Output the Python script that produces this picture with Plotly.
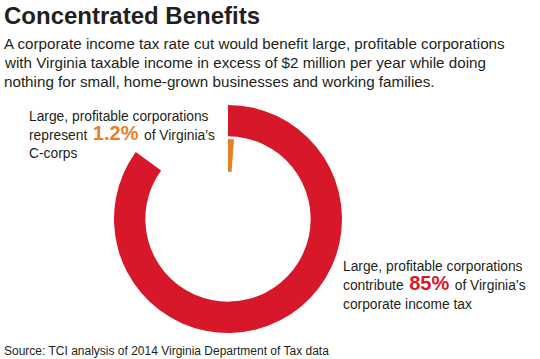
import plotly.graph_objects as go

W, H = 540, 359

# Data
groups = ["Large, profitable corporations", "All other corporations"]
tax_share = [85, 15]        # share of Virginia corporate income tax (%)
ccorp_share = [1.2, 98.8]   # share of Virginia C-corps (%)

RED = "#D7182A"
ORANGE = "#E8822A"
TXT = "#231F20"
FONT = "Liberation Sans, Arial, sans-serif"

def px_domain(cx, cy, r):
    return dict(x=[(cx - r) / W, (cx + r) / W],
                y=[(H - cy - r) / H, (H - cy + r) / H])

fig = go.Figure()
fig.add_trace(go.Pie(
    labels=groups, values=tax_share, sort=False, direction="clockwise",
    rotation=0, hole=0.725, textinfo="none", hoverinfo="skip",
    marker=dict(colors=[RED, "rgba(0,0,0,0)"], line=dict(width=0)),
    domain=px_domain(228, 219, 114), showlegend=False))
fig.add_trace(go.Pie(
    labels=groups, values=ccorp_share, sort=False, direction="clockwise",
    rotation=0, hole=0.59, textinfo="none", hoverinfo="skip",
    marker=dict(colors=[ORANGE, "rgba(0,0,0,0)"], line=dict(width=0)),
    domain=px_domain(228, 219, 80), showlegend=False))

anns = []
def ann(text, x_px, base_px, size, big=None, color=TXT):
    s = big if big else size
    bottom = base_px + 0.212 * s + 1
    anns.append(dict(text=text, x=(x_px - 1) / W, y=1 - bottom / H,
                     xref="paper", yref="paper", xanchor="left", yanchor="bottom",
                     showarrow=False, align="left",
                     font=dict(family=FONT, size=size, color=color)))

ann("<b>Concentrated Benefits</b>", 3, 25, 24)
sub = ["A corporate income tax rate cut would benefit large, profitable corporations",
       "with Virginia taxable income in excess of $2 million per year while doing",
       "nothing for small, home-grown businesses and working families."]
for line, b in zip(sub, [50, 69, 87.5]):
    ann(line, 3, b, 15.2)

ann("Large, profitable corporations", 28, 122, 13.8)
ann("represent<span style='font-size:20px;color:%s'> <b>1.2%%</b> </span>of Virginia’s" % ORANGE,
    28, 141, 13.8, big=20)
ann("C-corps", 28, 159, 13.8)

ann("Large, profitable corporations", 342, 272, 13.8)
ann("contribute<span style='font-size:20px;color:%s'> <b>85%%</b> </span>of Virginia’s" % RED,
    342, 291, 13.8, big=20)
ann("corporate income tax", 342, 310, 13.8)

ann("Source: TCI analysis of 2014 Virginia Department of Tax data", 3, 356, 12)

fig.update_layout(width=W, height=H, margin=dict(l=0, r=0, t=0, b=0),
                  paper_bgcolor="white", plot_bgcolor="white",
                  annotations=anns, showlegend=False)
fig.write_html("out.html", config={"displayModeBar": False, "staticPlot": True},
               post_script="document.body.style.margin='0';document.body.style.overflow='hidden';")
